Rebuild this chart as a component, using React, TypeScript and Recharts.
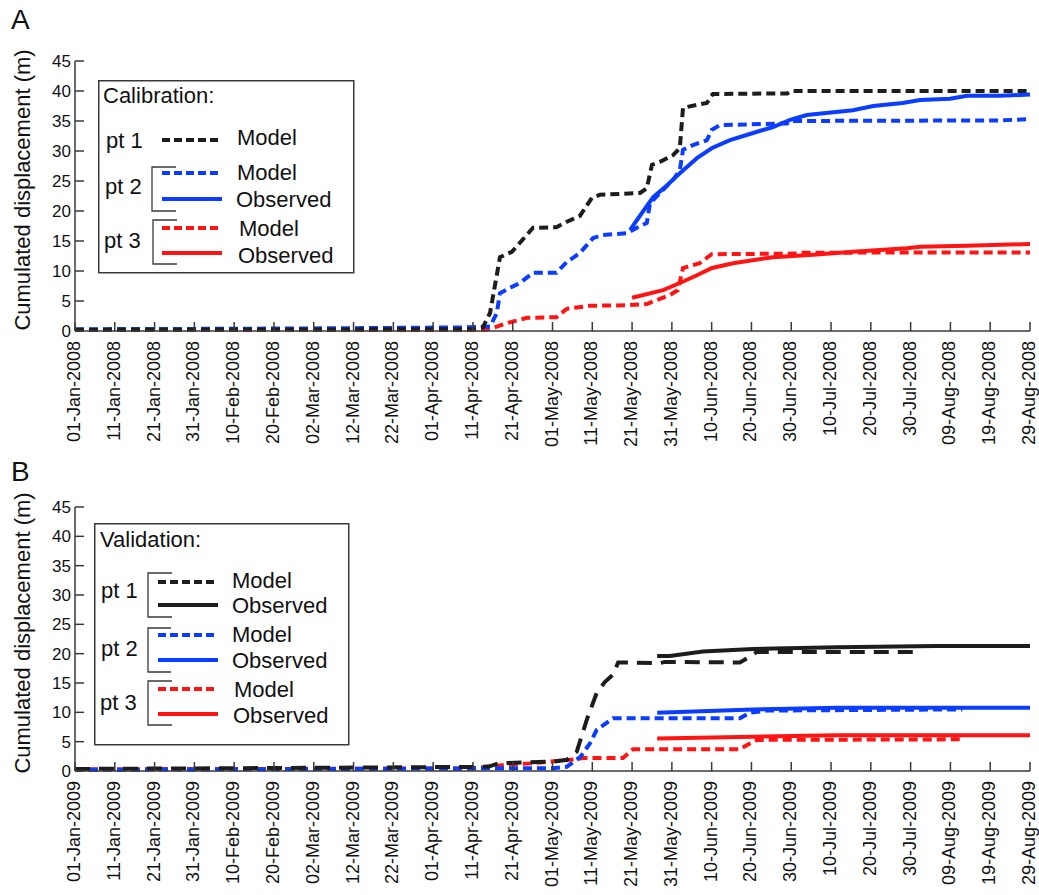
import React from 'react';
import { LineChart, Line, XAxis, YAxis, Legend } from 'recharts';

// tick positions are days since 01-Jan, labels are what the figure prints
const tickDays = [0, 10, 20, 30, 40, 50, 60, 70, 80, 90, 100, 110, 120, 130, 140, 150, 160, 170, 180, 190, 200, 210, 220, 230, 240];
const tickLabels = [
  '01-Jan', '11-Jan', '21-Jan', '31-Jan', '10-Feb', '20-Feb', '02-Mar', '12-Mar', '22-Mar',
  '01-Apr', '11-Apr', '21-Apr', '01-May', '11-May', '21-May', '31-May', '10-Jun', '20-Jun',
  '30-Jun', '10-Jul', '20-Jul', '30-Jul', '09-Aug', '19-Aug', '29-Aug',
];
const yTicks = [0, 5, 10, 15, 20, 25, 30, 35, 40, 45];

// calibration 2008: [day, displacement m]
const calPt1Model = [
  [0, 0.2], [50, 0.25], [100, 0.3], [102.5, 0.6], [104.3, 3], [106.8, 12.3], [109.8, 13.2], [111.8, 14.7],
  [115.1, 17.2], [121, 17.3], [123.6, 18.2], [126.9, 19.2], [129.9, 22.2], [131.9, 22.7], [142, 23], [143.7, 23.8],
  [145, 27.7], [147, 28.2], [150.3, 29.3], [152, 30.5], [152.8, 37.2], [156.3, 37.7], [158.8, 38], [160.3, 39.5],
  [179, 39.6], [180, 40], [240, 40],
];
const calPt2Model = [
  [0, 0.3], [30, 0.35], [65, 0.45], [98, 0.6], [104.3, 0.75], [106, 3], [106.8, 6.3], [109.3, 7.2], [111.8, 8],
  [115.1, 9.7], [121, 9.7], [123.6, 11.5], [126.9, 13], [130.2, 15.5], [132.7, 16], [138.7, 16.3], [141.2, 17.2],
  [143.7, 18], [144.5, 21.3], [147, 23], [150.3, 25.2], [152, 26.8], [152.8, 30.2], [155.3, 31], [158.8, 31.8],
  [160, 33.5], [162, 34.3], [179, 34.6], [180, 35], [232, 35.1], [240, 35.3],
];
const calPt2Obs = [
  [139.5, 16.8], [140.7, 18], [145.3, 22.3], [148.8, 24.3], [152, 26.3], [156.3, 28.8], [160.1, 30.5], [164.6, 31.8],
  [170.4, 33], [175.4, 34], [179.7, 35.2], [183.9, 36], [195.5, 36.8], [200.6, 37.5], [208, 38], [212.4, 38.5],
  [219.9, 38.7], [224.2, 39.2], [232.5, 39.2], [240, 39.4],
];
const calPt3Model = [
  [0, 0.15], [100, 0.15], [103, 0.2], [105, 0.5], [108.5, 1.3], [113.6, 2.2], [121, 2.3], [123.6, 3.7], [129.4, 4.2],
  [138.7, 4.3], [143.7, 4.5], [149.5, 6], [151.5, 6.8], [152.8, 10.5], [157, 11.3], [160, 12.8], [181, 12.9],
  [182, 13.05], [240, 13.1],
];
const calPt3Obs = [
  [140, 5.55], [147.8, 6.8], [152, 8], [156.3, 9.3], [160.1, 10.5], [165.4, 11.3], [175.4, 12.3], [185.5, 12.7],
  [195.5, 13.2], [209, 13.8], [212.4, 14.05], [224.2, 14.2], [240, 14.5],
];

// validation 2009
const valPt1Model = [
  [0, 0.35], [48, 0.5], [100, 0.7], [104, 0.75], [106, 1.2], [107.6, 1.35], [120.2, 1.6], [123.6, 1.9], [126.1, 3.3],
  [128.6, 8.7], [131.1, 13.3], [133.2, 15.2], [135.2, 16.4], [136.5, 18.5], [147, 18.4], [148.3, 18.6], [167.1, 18.5],
  [169.6, 19.5], [171.4, 20.3], [211, 20.3],
];
const valPt1Obs = [[146.3, 19.6], [149.5, 19.6], [157.8, 20.35], [170.4, 20.8], [191.5, 21.1], [216.6, 21.3], [240, 21.3]];
const valPt2Model = [
  [0, 0.2], [48, 0.3], [100, 0.45], [120, 0.45], [123.6, 0.73], [127, 2.4], [129.4, 4.7], [131.1, 7], [135.2, 9],
  [167.1, 9], [169.6, 9.95], [173.9, 10.3], [223, 10.5],
];
const valPt2Obs = [[146.3, 9.95], [170.4, 10.5], [191.5, 10.8], [240, 10.8]];
const valPt3Model = [
  [0, 0.3], [50, 0.35], [100, 0.45], [108.5, 1.1], [114.3, 1.3], [124.4, 1.9], [127.7, 2.2], [137.7, 2.2],
  [140.2, 3.7], [167.1, 3.7], [168.8, 4.4], [171.4, 5.3], [223, 5.4],
];
const valPt3Obs = [[146.3, 5.55], [170.4, 5.85], [191.5, 6.1], [240, 6.1]];

const FONT = '"Liberation Sans", Arial, Helvetica, sans-serif';
const BLACK = '#1d1d1d';
const BLUE = '#0a3dff';
const RED = '#ff1414';
const FRAME = '#3a3a3a';

const toPoints = (pts: number[][]) => pts.map(([d, v]) => ({ d, v }));

const BottomTick = ({ x, y, payload, year }: any) => {
  const i = tickDays.indexOf(payload.value);
  return (
    <g>
      <line x1={x} y1={y} x2={x} y2={y - 9} stroke={FRAME} strokeWidth={1.5} />
      <text
        x={x}
        y={y + 10}
        transform={`rotate(-90 ${x} ${y + 10})`}
        textAnchor="end"
        dy={5}
        fontSize={18}
        fontFamily={FONT}
        fill="#111"
      >
        {`${tickLabels[i]}-${year}`}
      </text>
    </g>
  );
};

const TopTick = ({ x, y }: any) => (
  <line x1={x} y1={y} x2={x} y2={y + 9} stroke={FRAME} strokeWidth={1.5} />
);

const LeftTick = ({ x, y, payload }: any) => (
  <g>
    <line x1={x} y1={y} x2={x + 9} y2={y} stroke={FRAME} strokeWidth={1.5} />
    <text x={x - 4} y={y} dy={6} textAnchor="end" fontSize={17} fontFamily={FONT} fill="#111">
      {payload.value}
    </text>
  </g>
);

const RightTick = ({ x, y }: any) => (
  <line x1={x} y1={y} x2={x - 9} y2={y} stroke={FRAME} strokeWidth={1.5} />
);

const YLabel = ({ viewBox }: any) => {
  const cy = viewBox.y + viewBox.height / 2 - 6;
  return (
    <text
      x={30}
      y={cy}
      transform={`rotate(-90 30 ${cy})`}
      textAnchor="middle"
      fontSize={22}
      fontFamily={FONT}
      fill="#111"
    >
      Cumulated displacement (m)
    </text>
  );
};

const txt = { fontSize: 22, fontFamily: FONT, fill: '#111' };

const Bracket = ({ x, y1, y2, x2 }: any) => (
  <polyline points={`${x2},${y1} ${x},${y1} ${x},${y2} ${x2},${y2}`} fill="none" stroke={FRAME} strokeWidth={1.3} />
);

const CalibrationLegend = () => (
  <svg width={258} height={195}>
    <rect x={0.75} y={0.75} width={255} height={192} fill="#fff" stroke={FRAME} strokeWidth={1.5} />
    <text x={5} y={23} {...txt}>Calibration:</text>

    <text x={8} y={68} {...txt}>pt 1</text>
    <line x1={64} y1={60} x2={124} y2={60} stroke={BLACK} strokeWidth={4} strokeDasharray="8 4" />
    <text x={139} y={65} {...txt}>Model</text>

    <text x={7} y={114} {...txt}>pt 2</text>
    <Bracket x={54} y1={87} y2={131} x2={78} />
    <line x1={64} y1={93} x2={124} y2={93} stroke={BLUE} strokeWidth={4} strokeDasharray="8 4" />
    <text x={139} y={100} {...txt}>Model</text>
    <line x1={64} y1={119} x2={124} y2={119} stroke={BLUE} strokeWidth={4} />
    <text x={138} y={127} {...txt}>Observed</text>

    <text x={6} y={168} {...txt}>pt 3</text>
    <Bracket x={55} y1={140} y2={184} x2={79} />
    <line x1={64} y1={148} x2={124} y2={148} stroke={RED} strokeWidth={4} strokeDasharray="8 4" />
    <text x={141} y={156} {...txt}>Model</text>
    <line x1={64} y1={173} x2={124} y2={173} stroke={RED} strokeWidth={4} />
    <text x={140} y={183} {...txt}>Observed</text>
  </svg>
);

const ValidationLegend = () => (
  <svg width={257} height={224}>
    <rect x={0.75} y={0.75} width={254} height={221} fill="#fff" stroke={FRAME} strokeWidth={1.5} />
    <text x={6} y={24} {...txt}>Validation:</text>

    <text x={7} y={75} {...txt}>pt 1</text>
    <Bracket x={54} y1={50} y2={94} x2={78} />
    <line x1={64} y1={59} x2={124} y2={59} stroke={BLACK} strokeWidth={4} strokeDasharray="8 4" />
    <text x={138} y={65} {...txt}>Model</text>
    <line x1={64} y1={82} x2={124} y2={82} stroke={BLACK} strokeWidth={4} />
    <text x={138} y={90} {...txt}>Observed</text>

    <text x={7} y={133} {...txt}>pt 2</text>
    <Bracket x={54} y1={105} y2={149} x2={77} />
    <line x1={64} y1={112} x2={124} y2={112} stroke={BLUE} strokeWidth={4} strokeDasharray="8 4" />
    <text x={138} y={119} {...txt}>Model</text>
    <line x1={64} y1={137} x2={124} y2={137} stroke={BLUE} strokeWidth={4} />
    <text x={138} y={145} {...txt}>Observed</text>

    <text x={6} y={187} {...txt}>pt 3</text>
    <Bracket x={54} y1={158} y2={202} x2={78} />
    <line x1={64} y1={166} x2={124} y2={166} stroke={RED} strokeWidth={4} strokeDasharray="8 4" />
    <text x={140} y={174} {...txt}>Model</text>
    <line x1={64} y1={191} x2={124} y2={191} stroke={RED} strokeWidth={4} />
    <text x={139} y={200} {...txt}>Observed</text>
  </svg>
);

type Series = { data: number[][]; color: string; dash?: string };

const Panel = ({ height, top, bottom, axisHeight, year, series, legend, legendPos }: any) => (
  <LineChart width={1039} height={height} margin={{ top, right: 9, bottom, left: 0 }}>
    <XAxis
      dataKey="d"
      type="number"
      domain={[0, 240]}
      ticks={tickDays}
      interval={0}
      height={axisHeight}
      tickSize={0}
      tickMargin={0}
      tickLine={false}
      axisLine={{ stroke: FRAME, strokeWidth: 1.5 }}
      tick={(p: any) => <BottomTick {...p} year={year} />}
    />
    <XAxis
      xAxisId="top"
      orientation="top"
      type="number"
      domain={[0, 240]}
      ticks={tickDays}
      interval={0}
      height={0}
      tickSize={0}
      tickMargin={0}
      tickLine={false}
      axisLine={{ stroke: FRAME, strokeWidth: 1.5 }}
      tick={(p: any) => <TopTick {...p} />}
    />
    <YAxis
      type="number"
      domain={[0, 45]}
      ticks={yTicks}
      interval={0}
      width={75}
      tickSize={0}
      tickMargin={0}
      tickLine={false}
      axisLine={{ stroke: FRAME, strokeWidth: 1.5 }}
      tick={(p: any) => <LeftTick {...p} />}
      label={{ content: (p: any) => <YLabel {...p} /> }}
    />
    <YAxis
      yAxisId="right"
      orientation="right"
      type="number"
      domain={[0, 45]}
      ticks={yTicks}
      interval={0}
      width={0}
      tickSize={0}
      tickMargin={0}
      tickLine={false}
      axisLine={{ stroke: FRAME, strokeWidth: 1.5 }}
      tick={(p: any) => <RightTick {...p} />}
    />
    <Legend
      layout="horizontal"
      verticalAlign="middle"
      align="center"
      wrapperStyle={{ left: legendPos[0], top: legendPos[1], width: legendPos[2], height: legendPos[3] }}
      content={legend}
    />
    {series.map((s: Series, i: number) => (
      <Line
        key={i}
        data={toPoints(s.data)}
        dataKey="v"
        type="linear"
        stroke={s.color}
        strokeWidth={4}
        strokeDasharray={s.dash}
        dot={false}
        activeDot={false}
        isAnimationActive={false}
      />
    ))}
  </LineChart>
);

const calSeries: Series[] = [
  { data: calPt3Model, color: RED, dash: '9 5' },
  { data: calPt2Model, color: BLUE, dash: '9 5' },
  { data: calPt1Model, color: BLACK, dash: '9 5' },
  { data: calPt3Obs, color: RED },
  { data: calPt2Obs, color: BLUE },
];

const valSeries: Series[] = [
  { data: valPt3Model, color: RED, dash: '9 5' },
  { data: valPt2Model, color: BLUE, dash: '9 5' },
  { data: valPt1Model, color: BLACK, dash: '15 9' },
  { data: valPt3Obs, color: RED },
  { data: valPt2Obs, color: BLUE },
  { data: valPt1Obs, color: BLACK },
];

const letter = { position: 'absolute' as const, left: 11, fontSize: 28, lineHeight: '28px', fontFamily: FONT, color: '#111' };

export default function App() {
  return (
    <div style={{ position: 'absolute', left: 0, top: 0, width: 1039, height: 895, background: '#fff' }}>
      <div style={{ position: 'absolute', left: 0, top: 0 }}>
        <Panel
          height={460}
          top={61}
          bottom={15}
          axisHeight={114}
          year="2008"
          series={calSeries}
          legend={<CalibrationLegend />}
          legendPos={[98, 80, 258, 195]}
        />
      </div>
      <div style={{ position: 'absolute', left: 0, top: 445 }}>
        <Panel
          height={450}
          top={62}
          bottom={0}
          axisHeight={124}
          year="2009"
          series={valSeries}
          legend={<ValidationLegend />}
          legendPos={[94, 78, 257, 224]}
        />
      </div>
      <div style={{ ...letter, top: 6 }}>A</div>
      <div style={{ ...letter, top: 458 }}>B</div>
    </div>
  );
}
